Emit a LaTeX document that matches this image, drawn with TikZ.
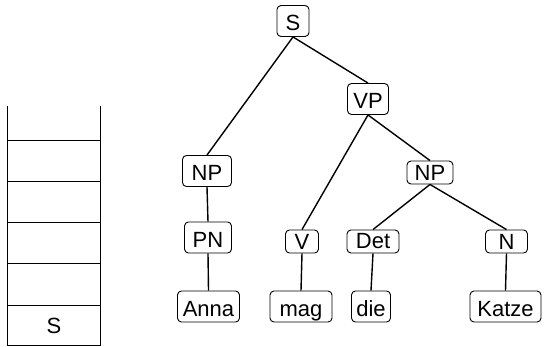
\documentclass[tikz,border=0pt]{standalone}
\usepackage{fontspec}
\setmainfont{Liberation Sans}
\usetikzlibrary{positioning}

\begin{document}
\begin{tikzpicture}[x=1pt,y=-1pt,
  box/.style={draw,rounded corners=4pt,inner sep=0pt,line width=0.9pt,
    font=\fontsize{22}{26}\selectfont},
  hi/.style={box,minimum height=31pt,text height=19.5pt,text depth=0pt},
  lo/.style={box,minimum height=23pt},
  edge/.style={line width=1.4pt}]
  \useasboundingbox (0,0) rectangle (544,346);
  % stack
  \draw[line width=1pt] (7.5,106) -- (7.5,345) -- (100,345) -- (100,106);
  \foreach \y in {140,181,222,263.5,305}
    \draw[line width=1pt] (7.5,\y) -- (100,\y);
  \node[font=\fontsize{22}{26}\selectfont] (stacks) at (54,326) {S};
  % tree
  \node[hi,minimum width=32pt] (s) at (293,21) {S};
  \node[hi,minimum width=41pt] (vp) at (368,99) {VP};
  \node[hi,minimum width=49pt] (np1) at (207,171) {NP};
  \node[lo,minimum width=46pt] (np2) at (430,172.5) {NP};
  \node[hi,minimum width=47pt] (pn) at (208,237.5) {PN};
  \node[lo,minimum width=33pt] (v) at (302,241.5) {V};
  \node[lo,minimum width=52pt] (det) at (373,241.5) {Det};
  \node[lo,minimum width=42pt] (n) at (506.5,241.5) {N};
  \node[hi,minimum width=62pt] (anna) at (208.5,306.5) {Anna};
  \node[hi,minimum width=62pt] (mag) at (301,306.5) {mag};
  \node[hi,minimum width=39pt] (die) at (371,306.5) {die};
  \node[hi,minimum width=71pt] (katze) at (505.5,306.5) {Katze};
  \draw[edge] (s.south) -- (np1.north);
  \draw[edge] (s.south) -- (vp.north);
  \draw[edge] (np1.south) -- (pn.north);
  \draw[edge] (pn.south) -- (anna.north);
  \draw[edge] (vp.south) -- (v.north);
  \draw[edge] (vp.south) -- (np2.north);
  \draw[edge] (v.south) -- (mag.north);
  \draw[edge] (np2.south) -- (det.north);
  \draw[edge] (np2.south) -- (n.north);
  \draw[edge] (det.south) -- (die.north);
  \draw[edge] (n.south) -- (katze.north);
\end{tikzpicture}
\end{document}
